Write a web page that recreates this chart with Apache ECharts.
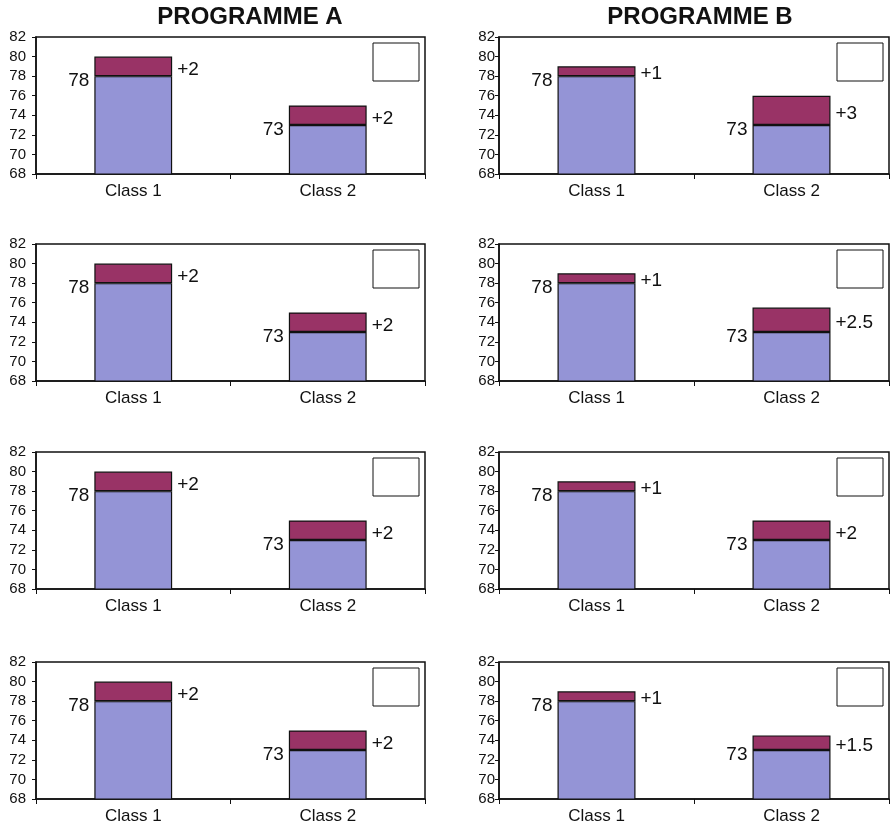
<!DOCTYPE html>
<html>
<head>
<meta charset="utf-8">
<script src="https://cdn.jsdelivr.net/npm/echarts@6/dist/echarts.min.js"></script>
<style>
  html, body { margin: 0; padding: 0; background: #fff; }
  #main { width: 890px; height: 829px; }
</style>
</head>
<body>
<div id="main"></div>
<script>
// data
const programmes = ['PROGRAMME A', 'PROGRAMME B'];
const categories = ['Class 1', 'Class 2'];
const baseScores = [78, 73];
// gains per row, one list per programme
const gainsA = [[2, 2], [2, 2], [2, 2], [2, 2]];
const gainsB = [[1, 3], [1, 2.5], [1, 2], [1, 1.5]];
const yMin = 68, yMax = 82, yStep = 2;

// layout
const colLeft = [36, 499];
const colWidth = [389, 390];
const colTitleX = [250, 700];
const colTickMargin = [10, 4];
const rowTop = [37, 244, 452, 662];
const plotH = 137;
const FONT = 'Liberation Sans, Arial, sans-serif';

const grids = [], xAxes = [], yAxes = [], series = [], graphics = [];

programmes.forEach((name, c) => {
  graphics.push({
    type: 'text', x: colTitleX[c], y: 17,
    style: { text: name, font: 'bold 24px ' + FONT, fill: '#111', align: 'center', verticalAlign: 'middle' }
  });
});

rowTop.forEach((top, r) => {
  [gainsA, gainsB].forEach((gains, c) => {
    const i = grids.length;
    grids.push({
      left: colLeft[c], top: top, width: colWidth[c], height: plotH,
      show: true, borderColor: '#111', borderWidth: 1.5, backgroundColor: '#fff'
    });
    xAxes.push({
      type: 'category', gridIndex: i, data: categories,
      axisLine: { lineStyle: { color: '#111', width: 1.5 } },
      axisTick: { show: true, length: 5, lineStyle: { color: '#111' } },
      axisLabel: { color: '#111', fontSize: 17, fontFamily: FONT, margin: 9 }
    });
    yAxes.push({
      type: 'value', gridIndex: i, min: yMin, max: yMax, interval: yStep,
      axisLine: { show: true, lineStyle: { color: '#111', width: 1.5 } },
      axisTick: { show: true, length: 4, lineStyle: { color: '#111' } },
      axisLabel: { color: '#111', fontSize: 15, fontFamily: FONT, margin: colTickMargin[c] },
      splitLine: { show: false }
    });
    series.push({
      type: 'bar', xAxisIndex: i, yAxisIndex: i, stack: 's' + i,
      data: baseScores, barWidth: '40%',
      itemStyle: { color: '#9494d6', borderColor: '#111', borderWidth: 1.2 },
      label: {
        show: true, position: [-5, 5], align: 'right', verticalAlign: 'middle',
        color: '#111', fontSize: 19, fontFamily: FONT, formatter: '{c}'
      },
      silent: true
    });
    series.push({
      type: 'bar', xAxisIndex: i, yAxisIndex: i, stack: 's' + i,
      data: gains[r], barWidth: '40%',
      itemStyle: { color: '#993366', borderColor: '#111', borderWidth: 1.2 },
      label: {
        show: true, position: 'right', distance: 5, offset: [0, 3],
        color: '#111', fontSize: 19, fontFamily: FONT,
        formatter: p => '+' + p.value
      },
      silent: true
    });
    // empty legend box in the top right corner
    graphics.push({
      type: 'rect',
      shape: { x: colLeft[c] + colWidth[c] - 52, y: top + 6, width: 46, height: 38 },
      style: { fill: '#fff', stroke: '#111', lineWidth: 1 }
    });
  });
});

const chart = echarts.init(document.getElementById('main'), null, { renderer: 'canvas' });
chart.setOption({
  animation: false,
  backgroundColor: '#fff',
  grid: grids,
  xAxis: xAxes,
  yAxis: yAxes,
  series: series,
  graphic: graphics
});
</script>
</body>
</html>
